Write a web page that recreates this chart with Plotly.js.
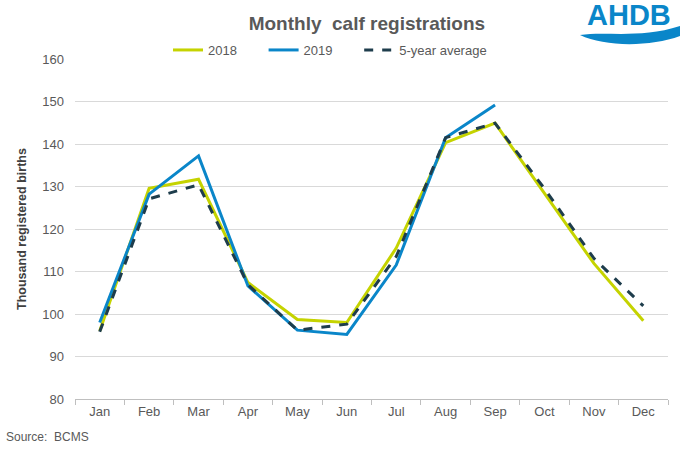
<!DOCTYPE html>
<html><head><meta charset="utf-8">
<script src="https://cdn.plot.ly/plotly-3.0.1.min.js"></script>
<style>html,body{margin:0;padding:0;background:#fff}#chart{width:682px;height:455px}</style>
</head><body><div id="chart"></div>
<script>
const months = ["Jan","Feb","Mar","Apr","May","Jun","Jul","Aug","Sep","Oct","Nov","Dec"];
const y2018 = [96, 129.6, 131.7, 107.4, 98.7, 98.0, 115.5, 140.3, 144.9, 128.4, 111.9, 98.4];
const y2019 = [98, 128.2, 137.2, 106.6, 96.2, 95.2, 111.5, 141.5, 149.2];
const avg5 = [95.8, 127.1, 130.4, 106.9, 96.2, 97.6, 113.5, 141.5, 144.9, 129.5, 113.1, 101.9];
const yTicks = [80, 90, 100, 110, 120, 130, 140, 150, 160];
const seriesNames = ["2018", "2019", "5-year average"];

const font = "Liberation Sans, Arial, sans-serif";
const pad = "&nbsp;".repeat(6);
const traces = [
  {x: months, y: y2018, name: seriesNames[0] + pad, mode: "lines", line: {color: "#c5d300", width: 3}},
  {x: months.slice(0, y2019.length), y: y2019, name: seriesNames[1] + pad, mode: "lines", line: {color: "#0a86c9", width: 3}},
  {x: months, y: avg5, name: seriesNames[2], mode: "lines", line: {color: "#1e3d4c", width: 3, dash: "dash"}}
];
const L = 75, R = 668, T = 59, B = 399;
const px = v => (v - L) / (R - L), py = v => (B - v) / (B - T);
const wave = `M ${px(580)} ${py(35)} C ${px(605)} ${py(31)} ${px(640)} ${py(39)} ${px(680)} ${py(26)} L ${px(680)} ${py(36)} C ${px(650)} ${py(47)} ${px(605)} ${py(47)} ${px(580)} ${py(35)} Z`;
const layout = {
  width: 682, height: 455,
  margin: {l: 75, r: 14, t: 59, b: 56},
  paper_bgcolor: "#fff", plot_bgcolor: "#fff",
  font: {family: font, color: "#595959", size: 13},
  title: {text: "<b>Monthly  calf registrations</b>", x: 0.538, xanchor: "center", y: 0.948, yanchor: "middle",
          font: {family: font, size: 19, color: "#595959"}},
  showlegend: true,
  legend: {orientation: "h", x: px(168), xanchor: "left", y: py(50), yanchor: "middle",
           font: {family: font, size: 13, color: "#595959"}, bgcolor: "rgba(0,0,0,0)", traceorder: "normal",
           tracegroupgap: 0},
  xaxis: {type: "category", tickvals: months, showgrid: false, showline: true, linecolor: "#bfbfbf", linewidth: 1,
          ticks: "outside", ticklen: 5, tickcolor: "#bfbfbf", tickson: "boundaries",
          tickfont: {family: font, size: 13, color: "#595959"}, range: [-0.5, 11.5], fixedrange: true},
  yaxis: {range: [80, 160], tickvals: yTicks, showgrid: true, gridcolor: "#d9d9d9", gridwidth: 1, zeroline: false,
          showline: false, ticks: "", tickfont: {family: font, size: 13, color: "#595959"}, ticklabelstandoff: 10,
          title: {text: "<b>Thousand registered births</b>", font: {family: font, size: 12.5, color: "#404040"}, standoff: 12}},
  annotations: [
    {text: "Source:  BCMS", xref: "paper", yref: "paper", x: px(4), y: py(437), xanchor: "left", yanchor: "middle",
     showarrow: false, font: {family: font, size: 12, color: "#595959"}},
    {text: "<b>AHDB</b>", xref: "paper", yref: "paper", x: px(629), y: py(15), xanchor: "center", yanchor: "middle",
     showarrow: false, font: {family: font, size: 29, color: "#0a86c9"}}
  ],
  shapes: [
    {type: "path", xref: "paper", yref: "paper", path: wave, fillcolor: "#0a86c9", line: {width: 0}}
  ]
};
Plotly.newPlot("chart", traces, layout, {displayModeBar: false, staticPlot: true});
</script></body></html>
